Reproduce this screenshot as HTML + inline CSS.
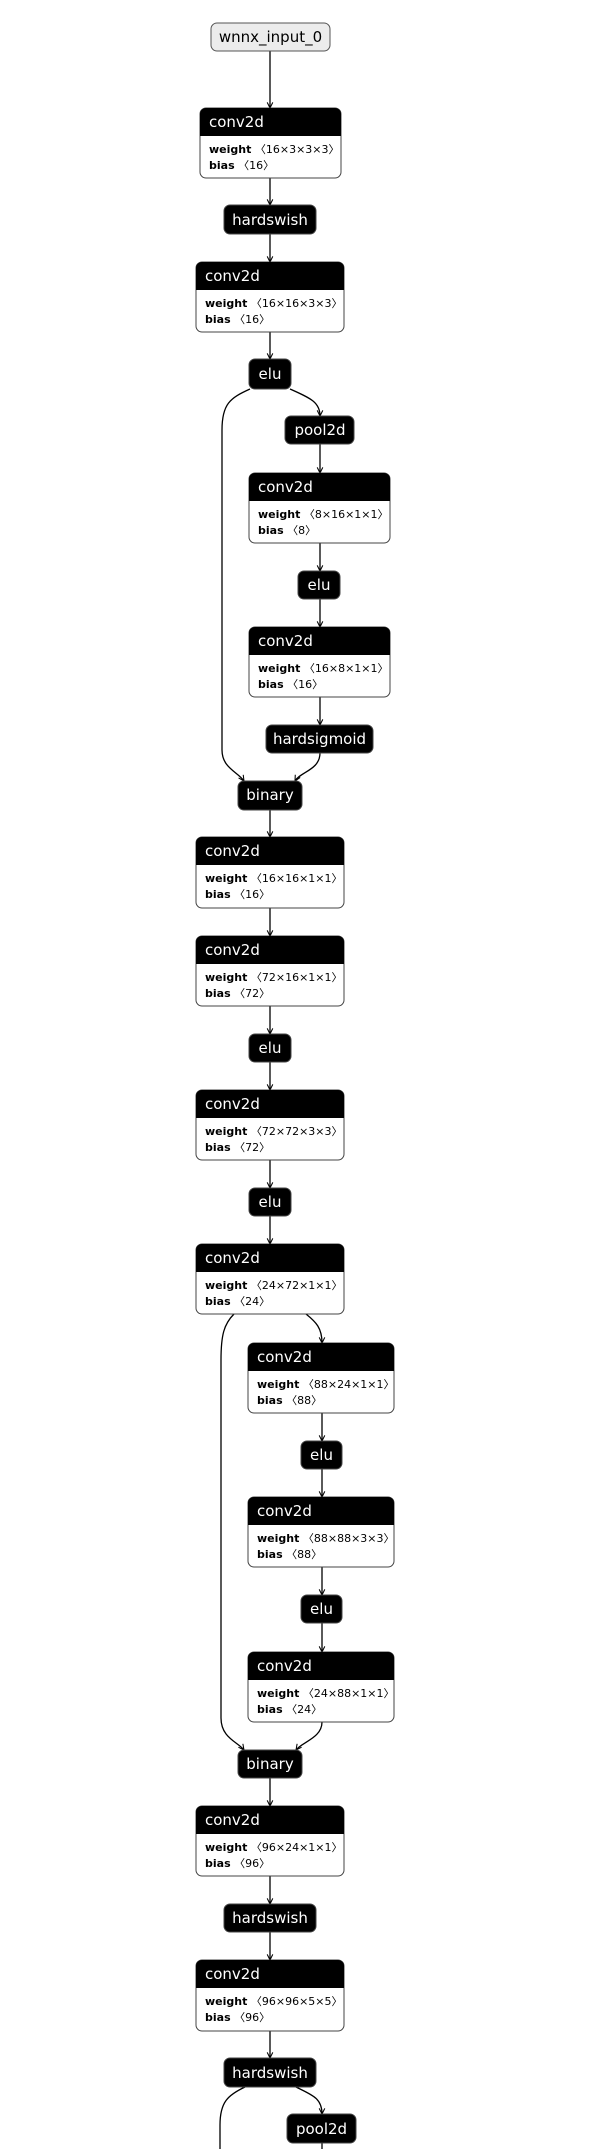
<!DOCTYPE html>
<html><head><meta charset="utf-8"><style>
html,body{margin:0;padding:0;background:#fff;}
svg{display:block;}
text{font-family:"DejaVu Sans","Liberation Sans",sans-serif;}
.h{fill:#fff;font-size:15px;}
.b{fill:#000;font-size:11px;}
.b tspan.k{font-weight:bold;}
.e{fill:none;stroke:#000;stroke-width:1.3;}
.n{fill:#000;stroke:#444;stroke-width:1;}
.c{fill:#fff;font-size:15px;text-anchor:middle;}
</style></head><body>
<svg width="595" height="2149" viewBox="0 0 595 2149" xmlns="http://www.w3.org/2000/svg">
<defs>
<marker id="a" viewBox="0 0 10 10" refX="9" refY="5" markerWidth="7" markerHeight="7" orient="auto-start-reverse" markerUnits="userSpaceOnUse">
<path d="M1,1 L9,5 L1,9" fill="none" stroke="#000" stroke-width="1.5"/>
</marker>
</defs>

<!-- edges main -->
<g class="e" marker-end="url(#a)">
<path d="M270,51 V108"/>
<path d="M270,178 V205"/>
<path d="M270,234 V262"/>
<path d="M270,332 V359"/>
<path d="M290,389 C310,398 320,402 320,416"/>
<path d="M320,444 V473"/>
<path d="M320,543 V571"/>
<path d="M320,599 V627"/>
<path d="M320,697 V725"/>
<path d="M320,753 C320,770 300,772 295,781"/>
<path d="M250,389 C230,398 222,404 222,430 V750 C222,768 238,772 244,781"/>
<path d="M270,810 V837"/>
<path d="M270,908 V936"/>
<path d="M270,1006 V1034"/>
<path d="M270,1062 V1090"/>
<path d="M270,1160 V1188"/>
<path d="M270,1216 V1244"/>
<path d="M306,1314 C316,1322 322,1328 322,1343"/>
<path d="M322,1413 V1441"/>
<path d="M322,1469 V1497"/>
<path d="M322,1567 V1595"/>
<path d="M322,1623 V1652"/>
<path d="M322,1722 C322,1738 302,1742 296,1750"/>
<path d="M234,1314 C224,1324 221,1335 221,1360 V1718 C221,1738 238,1742 244,1750"/>
<path d="M270,1778 V1806"/>
<path d="M270,1876 V1904"/>
<path d="M270,1932 V1960"/>
<path d="M270,2031 V2058"/>
<path d="M296,2087 C312,2095 322,2098 322,2114"/>
</g>
<path class="e" d="M245,2087 C228,2095 220,2102 220,2125 V2149"/>
<path class="e" d="M322,2143 V2149"/>

<!-- input -->
<rect x="211" y="23" width="119" height="28" rx="6" fill="#ececec" stroke="#555" stroke-width="1"/>
<text x="270.5" y="42" font-size="15" text-anchor="middle" fill="#000">wnnx_input_0</text>

<!-- conv block helper-like groups -->
<g>
<rect x="200" y="108" width="141" height="70" rx="6" fill="#fff" stroke="#444"/>
<path d="M200,136 V114 A6,6 0 0 1 206,108 H335 A6,6 0 0 1 341,114 V136 Z" fill="#000"/>
<text class="h" x="209" y="127">conv2d</text>
<text class="b" x="209" y="153"><tspan class="k">weight</tspan> 〈16×3×3×3〉</text>
<text class="b" x="209" y="169"><tspan class="k">bias</tspan> 〈16〉</text>
</g>
<rect class="n" x="224" y="205" width="92" height="29" rx="6"/><text class="c" x="270" y="225">hardswish</text>
<g>
<rect x="196" y="262" width="148" height="70" rx="6" fill="#fff" stroke="#444"/>
<path d="M196,290 V268 A6,6 0 0 1 202,262 H338 A6,6 0 0 1 344,268 V290 Z" fill="#000"/>
<text class="h" x="205" y="281">conv2d</text>
<text class="b" x="205" y="307"><tspan class="k">weight</tspan> 〈16×16×3×3〉</text>
<text class="b" x="205" y="323"><tspan class="k">bias</tspan> 〈16〉</text>
</g>
<rect class="n" x="249" y="359" width="42" height="30" rx="6"/><text class="c" x="270" y="379">elu</text>
<rect class="n" x="285" y="416" width="69" height="28" rx="6"/><text class="c" x="320" y="435">pool2d</text>
<g>
<rect x="249" y="473" width="141" height="70" rx="6" fill="#fff" stroke="#444"/>
<path d="M249,501 V479 A6,6 0 0 1 255,473 H384 A6,6 0 0 1 390,479 V501 Z" fill="#000"/>
<text class="h" x="258" y="492">conv2d</text>
<text class="b" x="258" y="518"><tspan class="k">weight</tspan> 〈8×16×1×1〉</text>
<text class="b" x="258" y="534"><tspan class="k">bias</tspan> 〈8〉</text>
</g>
<rect class="n" x="298" y="571" width="42" height="28" rx="6"/><text class="c" x="319" y="590">elu</text>
<g>
<rect x="249" y="627" width="141" height="70" rx="6" fill="#fff" stroke="#444"/>
<path d="M249,655 V633 A6,6 0 0 1 255,627 H384 A6,6 0 0 1 390,633 V655 Z" fill="#000"/>
<text class="h" x="258" y="646">conv2d</text>
<text class="b" x="258" y="672"><tspan class="k">weight</tspan> 〈16×8×1×1〉</text>
<text class="b" x="258" y="688"><tspan class="k">bias</tspan> 〈16〉</text>
</g>
<rect class="n" x="266" y="725" width="107" height="28" rx="6"/><text class="c" x="319.5" y="744">hardsigmoid</text>
<rect class="n" x="238" y="781" width="64" height="29" rx="6"/><text class="c" x="270" y="800">binary</text>

<g>
<rect x="196" y="837" width="148" height="71" rx="6" fill="#fff" stroke="#444"/>
<path d="M196,865 V843 A6,6 0 0 1 202,837 H338 A6,6 0 0 1 344,843 V865 Z" fill="#000"/>
<text class="h" x="205" y="856">conv2d</text>
<text class="b" x="205" y="882"><tspan class="k">weight</tspan> 〈16×16×1×1〉</text>
<text class="b" x="205" y="898"><tspan class="k">bias</tspan> 〈16〉</text>
</g>
<g>
<rect x="196" y="936" width="148" height="70" rx="6" fill="#fff" stroke="#444"/>
<path d="M196,964 V942 A6,6 0 0 1 202,936 H338 A6,6 0 0 1 344,942 V964 Z" fill="#000"/>
<text class="h" x="205" y="955">conv2d</text>
<text class="b" x="205" y="981"><tspan class="k">weight</tspan> 〈72×16×1×1〉</text>
<text class="b" x="205" y="997"><tspan class="k">bias</tspan> 〈72〉</text>
</g>
<rect class="n" x="249" y="1034" width="42" height="28" rx="6"/><text class="c" x="270" y="1053">elu</text>
<g>
<rect x="196" y="1090" width="148" height="70" rx="6" fill="#fff" stroke="#444"/>
<path d="M196,1118 V1096 A6,6 0 0 1 202,1090 H338 A6,6 0 0 1 344,1096 V1118 Z" fill="#000"/>
<text class="h" x="205" y="1109">conv2d</text>
<text class="b" x="205" y="1135"><tspan class="k">weight</tspan> 〈72×72×3×3〉</text>
<text class="b" x="205" y="1151"><tspan class="k">bias</tspan> 〈72〉</text>
</g>
<rect class="n" x="249" y="1188" width="42" height="28" rx="6"/><text class="c" x="270" y="1207">elu</text>
<g>
<rect x="196" y="1244" width="148" height="70" rx="6" fill="#fff" stroke="#444"/>
<path d="M196,1272 V1250 A6,6 0 0 1 202,1244 H338 A6,6 0 0 1 344,1250 V1272 Z" fill="#000"/>
<text class="h" x="205" y="1263">conv2d</text>
<text class="b" x="205" y="1289"><tspan class="k">weight</tspan> 〈24×72×1×1〉</text>
<text class="b" x="205" y="1305"><tspan class="k">bias</tspan> 〈24〉</text>
</g>
<g>
<rect x="248" y="1343" width="146" height="70" rx="6" fill="#fff" stroke="#444"/>
<path d="M248,1371 V1349 A6,6 0 0 1 254,1343 H388 A6,6 0 0 1 394,1349 V1371 Z" fill="#000"/>
<text class="h" x="257" y="1362">conv2d</text>
<text class="b" x="257" y="1388"><tspan class="k">weight</tspan> 〈88×24×1×1〉</text>
<text class="b" x="257" y="1404"><tspan class="k">bias</tspan> 〈88〉</text>
</g>
<rect class="n" x="301" y="1441" width="41" height="28" rx="6"/><text class="c" x="321.5" y="1460">elu</text>
<g>
<rect x="248" y="1497" width="146" height="70" rx="6" fill="#fff" stroke="#444"/>
<path d="M248,1525 V1503 A6,6 0 0 1 254,1497 H388 A6,6 0 0 1 394,1503 V1525 Z" fill="#000"/>
<text class="h" x="257" y="1516">conv2d</text>
<text class="b" x="257" y="1542"><tspan class="k">weight</tspan> 〈88×88×3×3〉</text>
<text class="b" x="257" y="1558"><tspan class="k">bias</tspan> 〈88〉</text>
</g>
<rect class="n" x="301" y="1595" width="41" height="28" rx="6"/><text class="c" x="321.5" y="1614">elu</text>
<g>
<rect x="248" y="1652" width="146" height="70" rx="6" fill="#fff" stroke="#444"/>
<path d="M248,1680 V1658 A6,6 0 0 1 254,1652 H388 A6,6 0 0 1 394,1658 V1680 Z" fill="#000"/>
<text class="h" x="257" y="1671">conv2d</text>
<text class="b" x="257" y="1697"><tspan class="k">weight</tspan> 〈24×88×1×1〉</text>
<text class="b" x="257" y="1713"><tspan class="k">bias</tspan> 〈24〉</text>
</g>
<rect class="n" x="238" y="1750" width="64" height="28" rx="6"/><text class="c" x="270" y="1769">binary</text>
<g>
<rect x="196" y="1806" width="148" height="70" rx="6" fill="#fff" stroke="#444"/>
<path d="M196,1834 V1812 A6,6 0 0 1 202,1806 H338 A6,6 0 0 1 344,1812 V1834 Z" fill="#000"/>
<text class="h" x="205" y="1825">conv2d</text>
<text class="b" x="205" y="1851"><tspan class="k">weight</tspan> 〈96×24×1×1〉</text>
<text class="b" x="205" y="1867"><tspan class="k">bias</tspan> 〈96〉</text>
</g>
<rect class="n" x="224" y="1904" width="92" height="28" rx="6"/><text class="c" x="270" y="1923">hardswish</text>
<g>
<rect x="196" y="1960" width="148" height="71" rx="6" fill="#fff" stroke="#444"/>
<path d="M196,1988 V1966 A6,6 0 0 1 202,1960 H338 A6,6 0 0 1 344,1966 V1988 Z" fill="#000"/>
<text class="h" x="205" y="1979">conv2d</text>
<text class="b" x="205" y="2005"><tspan class="k">weight</tspan> 〈96×96×5×5〉</text>
<text class="b" x="205" y="2021"><tspan class="k">bias</tspan> 〈96〉</text>
</g>
<rect class="n" x="224" y="2058" width="92" height="29" rx="6"/><text class="c" x="270" y="2078">hardswish</text>
<rect class="n" x="287" y="2114" width="69" height="29" rx="6"/><text class="c" x="321.5" y="2134">pool2d</text>
</svg>
</body></html>
